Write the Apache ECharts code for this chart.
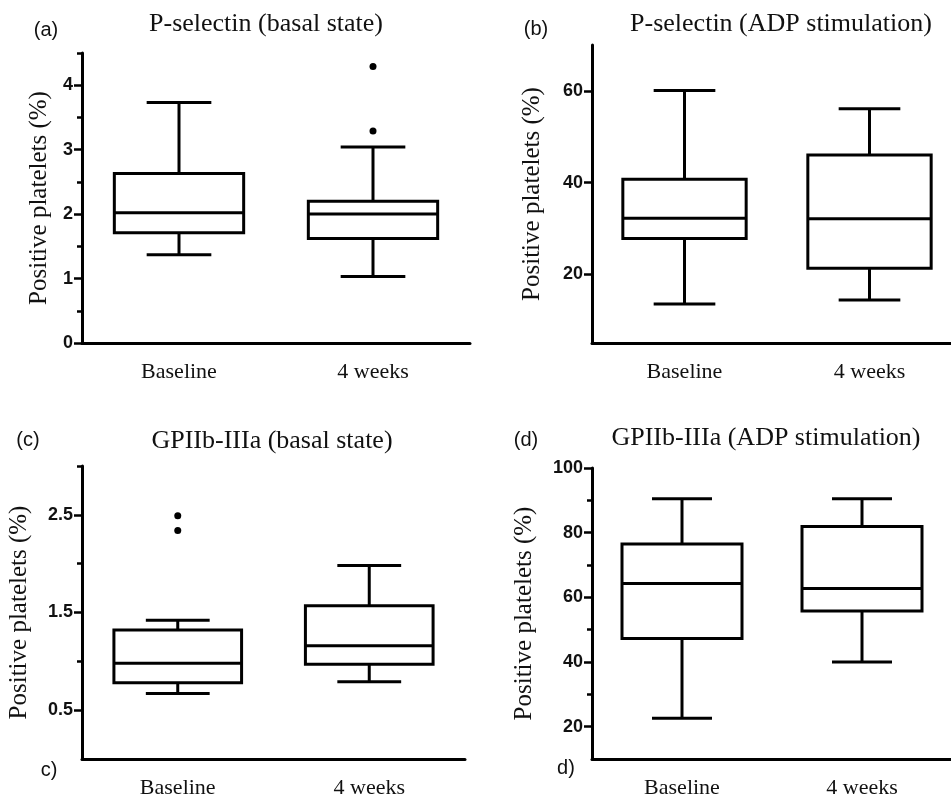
<!DOCTYPE html>
<html>
<head>
<meta charset="utf-8">
<script src="https://cdn.jsdelivr.net/npm/echarts@6/dist/echarts.min.js"></script>
<style>
    html, body { margin: 0; padding: 0; background: #fff; }
    #main { width: 951px; height: 795px; }
</style>
</head>
<body>
<div id="main"></div>
<script>
    // categories and panel texts
    var categories = ['Baseline', '4 weeks'];
    var panelTags = ['(a)', '(b)', '(c)', '(d)'];
    var panelTitles = ['P-selectin (basal state)', 'P-selectin (ADP stimulation)',
                       'GPIIb-IIIa (basal state)', 'GPIIb-IIIa (ADP stimulation)'];
    var yName = 'Positive platelets (%)';

    // box values: [min, Q1, median, Q3, max] for Baseline, 4 weeks
    var boxA = [[1.37, 1.71, 2.02, 2.63, 3.73], [1.03, 1.62, 2.00, 2.20, 3.04]];
    var boxB = [[13.5, 27.8, 32.2, 40.7, 60.1], [14.4, 21.3, 32.1, 46.0, 56.1]];
    var boxC = [[0.67, 0.78, 0.98, 1.32, 1.42], [0.79, 0.97, 1.16, 1.57, 1.98]];
    var boxD = [[22.6, 47.3, 64.3, 76.5, 90.5], [40.0, 55.8, 62.7, 81.9, 90.5]];

    // outliers: [category index, value]
    var outA = [[1, 4.29], [1, 3.29]];
    var outB = [];
    var outC = [[0, 2.49], [0, 2.34]];
    var outD = [];

    // y axis ranges and tick labels
    var rangeA = [0, 4.5], majorA = [0, 1, 2, 3, 4], minorA = [0.5, 1.5, 2.5, 3.5, 4.5];
    var rangeB = [5, 70], majorB = [20, 40, 60], minorB = [];
    var rangeC = [0, 3], majorC = [0.5, 1.5, 2.5], minorC = [1, 2, 3];
    var rangeD = [10, 100], majorD = [20, 40, 60, 80, 100], minorD = [30, 50, 70, 90];

    var panels = [
        { box: boxA, out: outA, range: rangeA, major: majorA, minor: minorA,
          grid: { left: 82, top: 53, width: 388, height: 290 }, gap: 30,
          title: [266, 24], tag: [46, 30] },
        { box: boxB, out: outB, range: rangeB, major: majorB, minor: minorB,
          grid: { left: 592, top: 45, width: 370, height: 298 }, gap: 47,
          title: [781, 24], tag: [536, 29] },
        { box: boxC, out: outC, range: rangeC, major: majorC, minor: minorC,
          grid: { left: 82, top: 466, width: 383, height: 293 }, gap: 50,
          title: [272, 441], tag: [28, 440], tag2: ['c)', 49, 770] },
        { box: boxD, out: outD, range: rangeD, major: majorD, minor: minorD,
          grid: { left: 592, top: 468, width: 360, height: 291 }, gap: 55,
          title: [766, 438], tag: [526, 440], tag2: ['d)', 566, 768] }
    ];

    var ink = '#111';
    var serif = '"Liberation Serif", "Times New Roman", serif';
    var sans = '"Liberation Sans", Arial, sans-serif';

    function renderBox(params, api) {
        var band = api.size([1, 0])[0];
        var idx = api.value(0);
        var x = api.coord([idx, 0])[0];
        var half = band / 3;
        var cap = band / 6;
        var y = [];
        for (var d = 1; d <= 5; d++) {
            y.push(api.coord([idx, api.value(d)])[1]);
        }
        var st = { stroke: '#000', lineWidth: 3, fill: null };
        return {
            type: 'group',
            children: [
                { type: 'line', shape: { x1: x, y1: y[0], x2: x, y2: y[1] }, style: st },
                { type: 'line', shape: { x1: x, y1: y[3], x2: x, y2: y[4] }, style: st },
                { type: 'line', shape: { x1: x - cap, y1: y[0], x2: x + cap, y2: y[0] }, style: st },
                { type: 'line', shape: { x1: x - cap, y1: y[4], x2: x + cap, y2: y[4] }, style: st },
                { type: 'rect', shape: { x: x - half, y: y[3], width: half * 2, height: y[1] - y[3] }, style: st },
                { type: 'line', shape: { x1: x - half, y1: y[2], x2: x + half, y2: y[2] }, style: st }
            ]
        };
    }

    var grids = [], xAxes = [], yAxes = [], series = [], titles = [];

    panels.forEach(function (p, i) {
        var g = p.grid;
        grids.push({ left: g.left, top: g.top, width: g.width, height: g.height, outerBoundsMode: 'none' });
        xAxes.push({
            type: 'category', gridIndex: i, data: categories,
            axisLine: { lineStyle: { color: '#000', width: 3 } },
            axisTick: { alignWithLabel: true, length: 7, lineStyle: { color: '#000', width: 2.5 } },
            axisLabel: { color: ink, fontFamily: serif, fontSize: 22, margin: 18 },
            splitLine: { show: false }
        });
        var yMain = yAxes.length;
        yAxes.push({
            type: 'value', gridIndex: i, min: p.range[0], max: p.range[1],
            name: yName, nameLocation: 'middle', nameGap: p.gap,
            nameTextStyle: { color: ink, fontFamily: serif, fontSize: 25 },
            axisLine: { show: true, lineStyle: { color: '#000', width: 3 } },
            axisTick: { show: true, length: 8, customValues: p.major, lineStyle: { color: '#000', width: 2.5 } },
            axisLabel: { customValues: p.major, color: ink, fontFamily: sans, fontWeight: 'bold', fontSize: 18, margin: 9 },
            splitLine: { show: false }
        });
        if (p.minor.length) {
            yAxes.push({
                type: 'value', gridIndex: i, min: p.range[0], max: p.range[1], position: 'left',
                axisLine: { show: false },
                axisTick: { show: true, length: 5, customValues: p.minor, lineStyle: { color: '#000', width: 2.5 } },
                axisLabel: { show: false },
                splitLine: { show: false }
            });
        }
        series.push({
            type: 'custom', xAxisIndex: i, yAxisIndex: yMain,
            renderItem: renderBox,
            encode: { x: 0, y: [1, 2, 3, 4, 5] },
            data: p.box.map(function (b, k) { return [k].concat(b); }),
            silent: true
        });
        if (p.out.length) {
            series.push({
                type: 'scatter', xAxisIndex: i, yAxisIndex: yMain,
                symbol: 'circle', symbolSize: 7,
                itemStyle: { color: '#000', opacity: 1 },
                data: p.out, silent: true
            });
        }
        titles.push({
            text: panelTitles[i], left: p.title[0], top: p.title[1] - 13, textAlign: 'center', padding: 0,
            textStyle: { color: ink, fontFamily: serif, fontWeight: 'normal', fontSize: 26, lineHeight: 26 }
        });
        titles.push({
            text: panelTags[i], left: p.tag[0], top: p.tag[1] - 10, textAlign: 'center', padding: 0,
            textStyle: { color: ink, fontFamily: sans, fontWeight: 'normal', fontSize: 20, lineHeight: 20 }
        });
        if (p.tag2) {
            titles.push({
                text: p.tag2[0], left: p.tag2[1], top: p.tag2[2] - 10, textAlign: 'center', padding: 0,
                textStyle: { color: ink, fontFamily: sans, fontWeight: 'normal', fontSize: 20, lineHeight: 20 }
            });
        }
    });

    var chart = echarts.init(document.getElementById('main'), null, { renderer: 'canvas' });
    chart.setOption({
        backgroundColor: '#fff',
        animation: false,
        title: titles,
        grid: grids,
        xAxis: xAxes,
        yAxis: yAxes,
        series: series
    });
</script>
</body>
</html>
